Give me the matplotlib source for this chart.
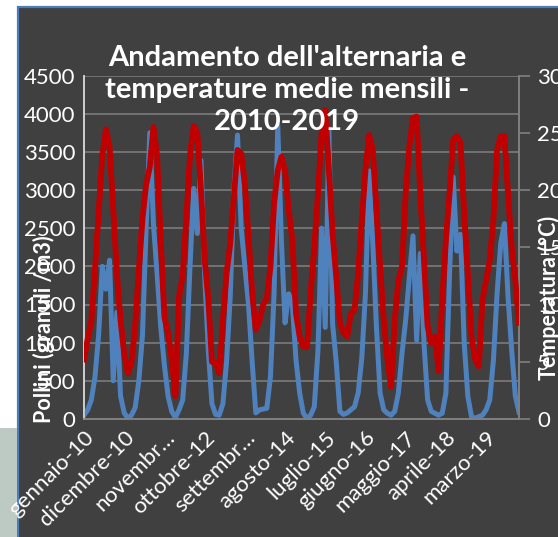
import matplotlib
matplotlib.use("Agg")
import matplotlib.pyplot as plt
from matplotlib.patches import Rectangle
import numpy as np

plt.rcParams['font.family'] = ['Lato', 'DejaVu Sans']

# monthly pollen counts (granuli/m3), Jan 2010 - Dec 2019
pollini_2010 = [50, 120, 250, 550, 1100, 2000, 1700, 2080, 500, 1400, 300, 80]
pollini_2011 = [10, 50, 150, 500, 1100, 2500, 3750, 2550, 1900, 1200, 700, 300]
pollini_2012 = [100, 20, 120, 250, 860, 2000, 3020, 2430, 3390, 1900, 900, 200]
pollini_2013 = [60, 50, 200, 750, 1600, 3000, 3720, 2500, 2000, 1500, 750, 80]
pollini_2014 = [120, 130, 140, 550, 1640, 3850, 2340, 1260, 1640, 1500, 770, 340]
pollini_2015 = [75, 10, 50, 160, 900, 2500, 1200, 3800, 1250, 750, 100, 60]
pollini_2016 = [80, 120, 160, 340, 800, 1650, 3250, 2300, 1200, 340, 120, 75]
pollini_2017 = [50, 100, 340, 860, 1300, 1860, 2400, 1030, 2170, 990, 250, 100]
pollini_2018 = [75, 50, 75, 340, 1900, 3170, 2200, 2420, 1000, 300, 30, 10]
pollini_2019 = [30, 50, 120, 250, 770, 1640, 2300, 2560, 1600, 900, 300, 90]

# monthly mean temperature (°C)
temp_2010 = [5.2, 7.0, 8.5, 13.0, 18.0, 23.0, 25.3, 23.8, 18.3, 12.7, 8.6, 5.7]
temp_2011 = [4.0, 5.0, 8.1, 13.0, 17.5, 20.5, 22.0, 25.5, 23.0, 15.5, 8.9, 7.5]
temp_2012 = [5.2, 2.0, 10.7, 12.5, 17.5, 23.0, 25.6, 25.0, 20.0, 14.0, 10.5, 5.0]
temp_2013 = [4.9, 4.0, 8.6, 12.7, 15.3, 19.4, 23.5, 23.2, 20.5, 16.0, 11.0, 7.8]
temp_2014 = [8.6, 10.0, 10.5, 13.3, 18.8, 21.7, 22.9, 21.7, 18.3, 15.6, 9.2, 7.2]
temp_2015 = [6.3, 6.3, 11.0, 15.0, 19.7, 25.0, 27.0, 21.7, 16.2, 12.4, 8.4, 7.5]
temp_2016 = [7.2, 9.2, 9.5, 12.7, 17.4, 21.7, 24.8, 23.5, 18.3, 13.3, 8.6, 5.2]
temp_2017 = [2.8, 8.6, 12.1, 13.3, 19.7, 23.8, 26.3, 26.4, 19.7, 13.9, 8.1, 6.6]
temp_2018 = [7.2, 4.2, 10.4, 15.6, 19.7, 24.4, 24.7, 24.1, 17.9, 12.7, 7.2, 5.2]
temp_2019 = [4.6, 10.4, 12.1, 13.9, 17.4, 23.5, 24.7, 24.7, 19.7, 15.0, 12.1, 8.4]

etichette = ['gennaio-10', 'dicembre-10', 'novembr…', 'ottobre-12', 'settembr…',
             'agosto-14', 'luglio-15', 'giugno-16', 'maggio-17', 'aprile-18', 'marzo-19']

pollini = (pollini_2010 + pollini_2011 + pollini_2012 + pollini_2013 + pollini_2014 +
           pollini_2015 + pollini_2016 + pollini_2017 + pollini_2018 + pollini_2019)
temp = (temp_2010 + temp_2011 + temp_2012 + temp_2013 + temp_2014 +
        temp_2015 + temp_2016 + temp_2017 + temp_2018 + temp_2019)
mesi = np.arange(len(pollini))

W, H = 558, 537
fig = plt.figure(figsize=(W / 100, H / 100), dpi=100)
fig.patch.set_facecolor('white')

# chart area and the strip of slide showing at the lower left
fig.add_artist(Rectangle((18 / W, -0.05), 1.0, 1 - 7 / H + 0.05, transform=fig.transFigure,
                         facecolor='#404040', edgecolor='#4a7ebb', lw=1.6, zorder=-10))
fig.add_artist(Rectangle((0, 0), 16.5 / W, (H - 428) / H, transform=fig.transFigure,
                         facecolor='#bccac3', edgecolor='none', zorder=-10))

ax = fig.add_axes([84 / W, 1 - 419 / H, (519 - 84) / W, (419 - 75.5) / H])
ax.patch.set_visible(False)
ax2 = ax.twinx()

ax.plot(mesi, pollini, color='#4f81bd', lw=3.6, solid_joinstyle='round', zorder=3)
ax2.plot(mesi, temp, color='#c00000', lw=4.2, solid_joinstyle='round', zorder=3)

ax.set_xlim(0, len(mesi) - 1)
ax.set_ylim(0, 4500)
ax2.set_ylim(0, 30)
ax.set_yticks(np.arange(0, 4501, 500))
ax2.set_yticks(np.arange(0, 31, 5))
ax.set_xticks(mesi[::11])
ax.set_xticklabels(etichette, rotation=45, ha='right', va='top', rotation_mode='anchor')

ax.grid(axis='y', color='#808080', lw=1.1)
ax.set_axisbelow(True)

for a in (ax, ax2):
    a.spines['top'].set_visible(False)
    a.spines['bottom'].set_color('#808080')
    a.spines['left'].set_color('#d0d0d0')
    a.spines['right'].set_color('#808080')
    for s in a.spines.values():
        s.set_linewidth(1.2)

ax.tick_params(axis='y', length=0, pad=6, labelsize=16, labelcolor='white')
ax.tick_params(axis='x', length=0, pad=6, labelsize=16, labelcolor='white')
ax2.tick_params(axis='y', length=8, width=1.2, color='#808080', pad=5,
                labelsize=16, labelcolor='white')

fig.text(287 / W, 1 - 90 / H,
         "Andamento dell'alternaria e\ntemperature medie mensili -\n2010-2019",
         ha='center', va='center', fontsize=21, fontweight='bold', color='white',
         linespacing=1.3)
fig.text(44 / W, 1 - 329 / H, 'Pollini (granuli /m3)', rotation=90, ha='center',
         va='center', fontsize=15.5, fontweight='bold', color='white')
fig.text(549 / W, 1 - 298 / H, 'Temperatura (°C)', rotation=90, ha='center',
         va='center', fontsize=15.5, fontweight='bold', color='white')

fig.savefig('out.png', dpi=100, facecolor=fig.get_facecolor())
